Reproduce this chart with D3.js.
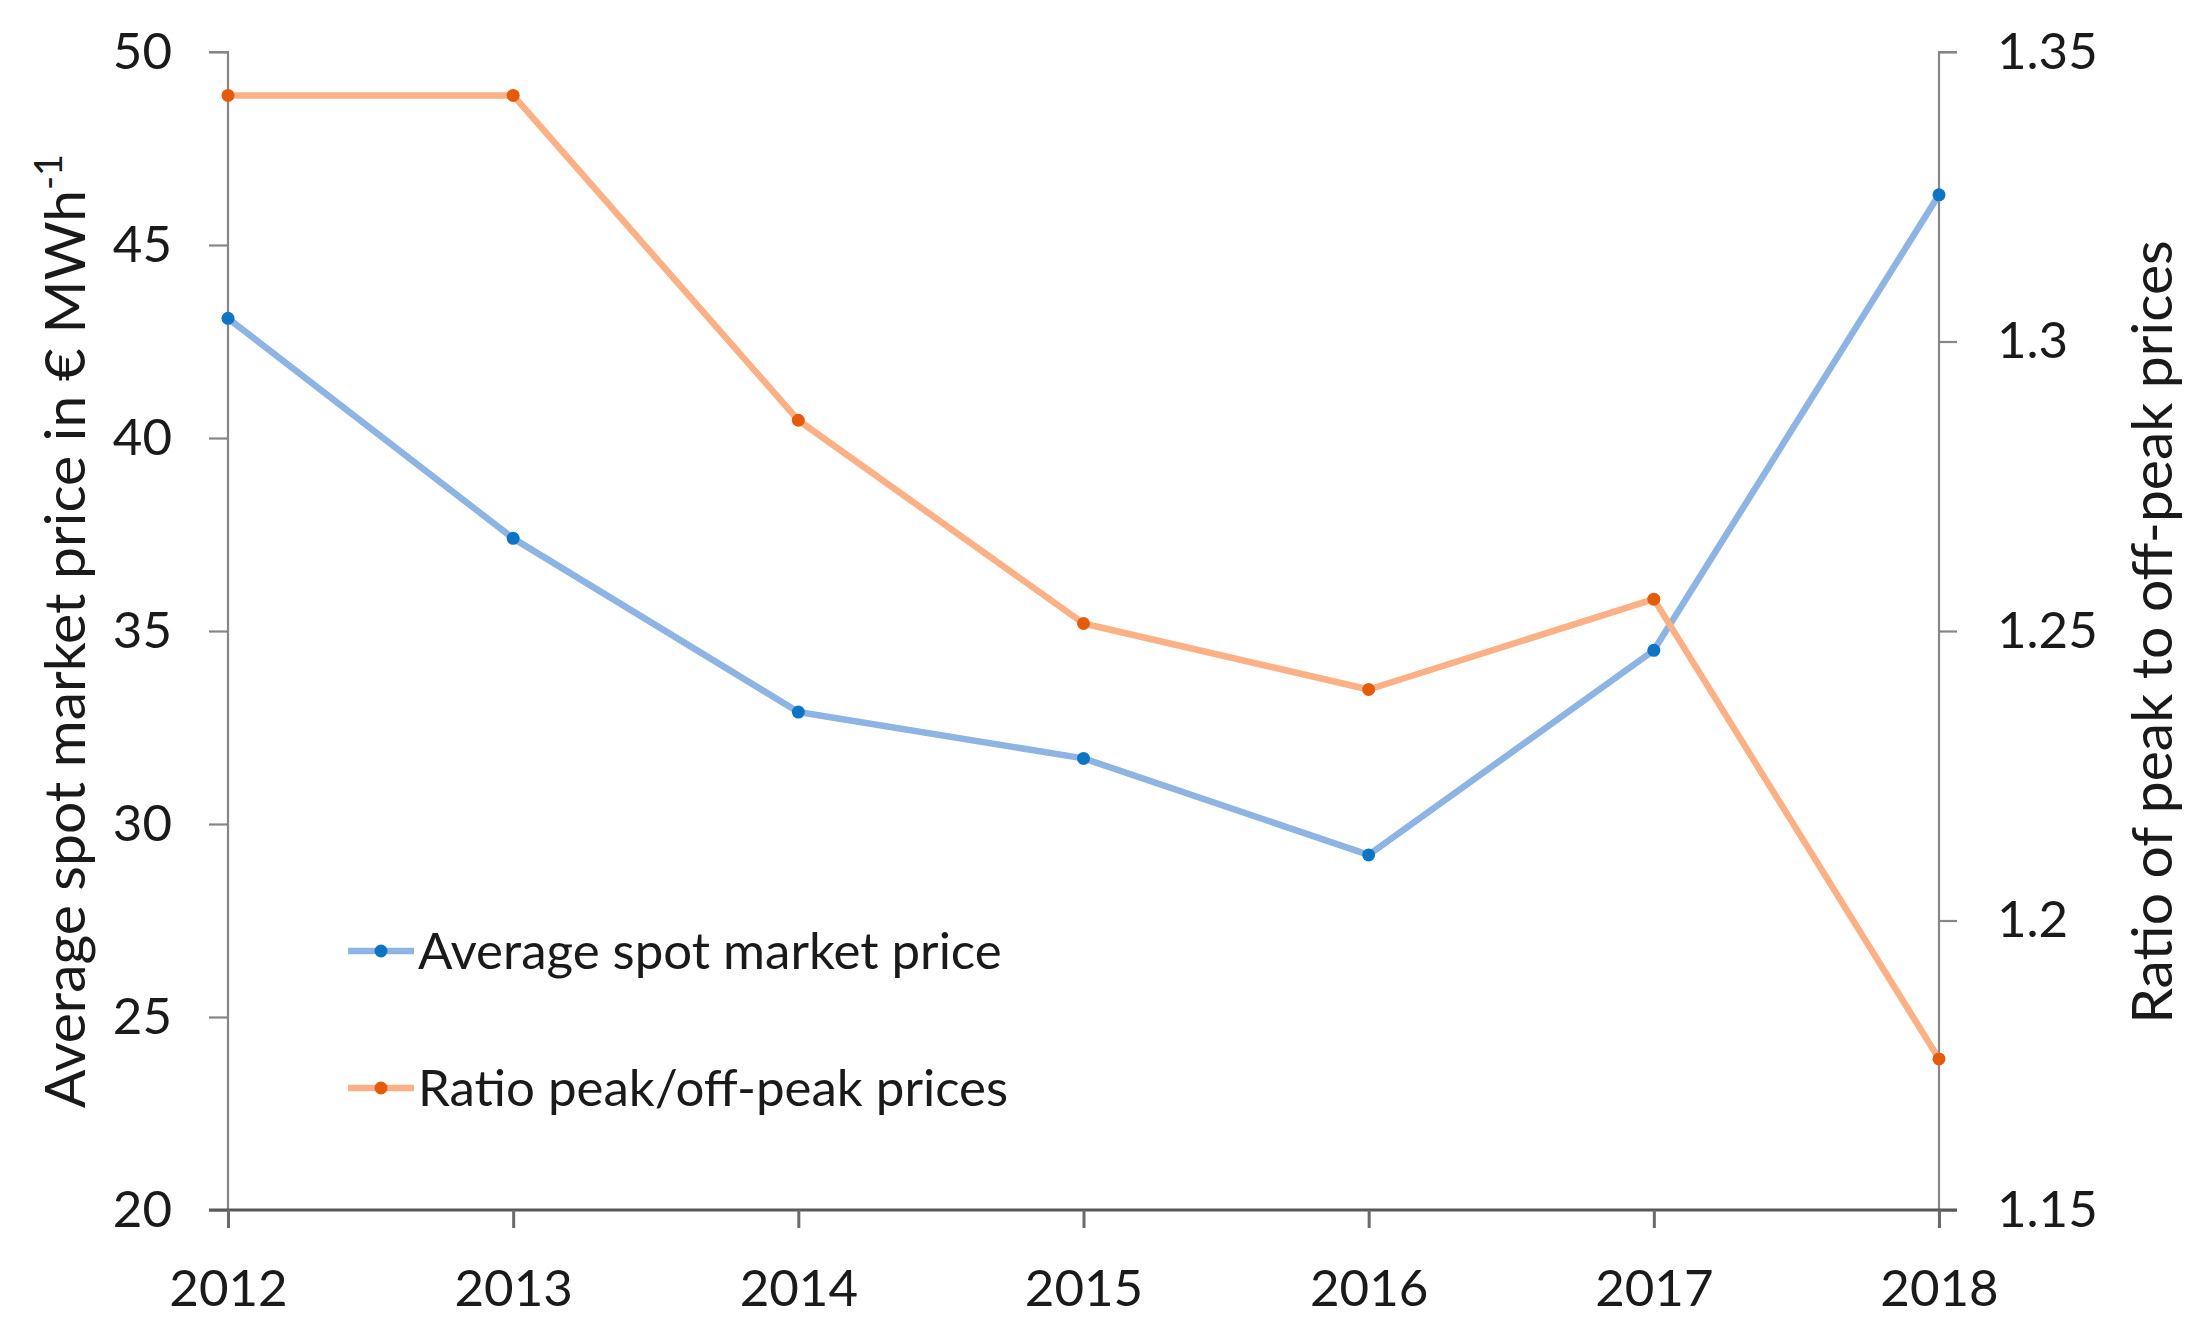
<!DOCTYPE html>
<html>
<head>
<meta charset="utf-8">
<script src="https://cdn.jsdelivr.net/npm/d3@7"></script>
<style>
  html, body { margin: 0; padding: 0; background: #ffffff; }
  svg { display: block; }
</style>
</head>
<body>
<svg id="chart" width="2211" height="1342"></svg>
<script>
// ---- data ----
const years = [2012, 2013, 2014, 2015, 2016, 2017, 2018];
const avgSpotPrice = [43.1, 37.4, 32.9, 31.7, 29.2, 34.5, 46.3];
const peakOffPeakRatio = [1.3425, 1.3425, 1.2864, 1.2513, 1.2399, 1.2555, 1.1761];
const leftTicks = [20, 25, 30, 35, 40, 45, 50];
const rightTicks = [1.15, 1.2, 1.25, 1.3, 1.35];
const rightTickLabels = ["1.15", "1.2", "1.25", "1.3", "1.35"];
const seriesNames = ["Average spot market price", "Ratio peak/off-peak prices"];
const leftTitle = "Average spot market price in € MWh";
const rightTitle = "Ratio of peak to off-peak prices";

// ---- layout ----
const FONT = "Lato, 'Open Sans', sans-serif";
const x0 = 228, x1 = 1939, yTop = 52, yBot = 1210;
const svg = d3.select("#chart");

const x = d3.scalePoint().domain(years).range([x0, x1]);
const yL = d3.scaleLinear().domain([20, 50]).range([yBot, yTop]);
const yR = d3.scaleLinear().domain([1.15, 1.35]).range([yBot, yTop]);

// left axis
const gL = svg.append("g").attr("transform", `translate(${x0},0)`)
  .call(d3.axisLeft(yL).tickValues(leftTicks).tickSize(19).tickPadding(37).tickFormat(d3.format("d")));
gL.select(".domain").attr("stroke", "#868686").attr("stroke-width", 2.2).attr("d", `M-19,${yTop}H0V${yBot}`);
gL.selectAll(".tick line").attr("stroke", "#868686").attr("stroke-width", 2.2);
gL.selectAll(".tick text").attr("font-family", FONT).attr("font-size", 51).attr("fill", "#1a1a1a");

// right axis
const gR = svg.append("g").attr("transform", `translate(${x1},0)`)
  .call(d3.axisRight(yR).tickValues(rightTicks).tickSize(18).tickPadding(40)
    .tickFormat((d, i) => rightTickLabels[i]));
gR.select(".domain").attr("stroke", "#868686").attr("stroke-width", 2.2).attr("d", `M18,${yTop}H0V${yBot + 18}`);
gR.selectAll(".tick line").attr("stroke", "#868686").attr("stroke-width", 2.2);
gR.selectAll(".tick text").attr("font-family", FONT).attr("font-size", 51).attr("fill", "#1a1a1a");

// bottom axis
const gB = svg.append("g").attr("transform", `translate(0,${yBot})`)
  .call(d3.axisBottom(x).tickSize(18).tickPadding(42).tickFormat(d3.format("d")));
gB.select(".domain").attr("stroke", "#595959").attr("stroke-width", 3).attr("d", `M${x0 - 19},0H${x1 + 18}`);
gB.selectAll(".tick line").attr("stroke", "#6a6a6a").attr("stroke-width", 3);
gB.selectAll(".tick text").attr("font-family", FONT).attr("font-size", 51).attr("fill", "#1a1a1a");

// series
const blueLine = "#8db4e2", blueDot = "#0e74c4";
const orangeLine = "#fcb085", orangeDot = "#e45c0a";

const lineL = d3.line().x((d, i) => x(years[i])).y(d => yL(d));
const lineR = d3.line().x((d, i) => x(years[i])).y(d => yR(d));

svg.append("path").datum(avgSpotPrice).attr("d", lineL)
  .attr("fill", "none").attr("stroke", blueLine).attr("stroke-width", 6.5).attr("stroke-linejoin", "round");
svg.append("path").datum(peakOffPeakRatio).attr("d", lineR)
  .attr("fill", "none").attr("stroke", orangeLine).attr("stroke-width", 6.5).attr("stroke-linejoin", "round");

svg.append("g").selectAll("circle").data(avgSpotPrice).join("circle")
  .attr("cx", (d, i) => x(years[i])).attr("cy", d => yL(d)).attr("r", 6.5).attr("fill", blueDot);
svg.append("g").selectAll("circle").data(peakOffPeakRatio).join("circle")
  .attr("cx", (d, i) => x(years[i])).attr("cy", d => yR(d)).attr("r", 6.5).attr("fill", orangeDot);

// legend
const legendItems = [
  { name: seriesNames[0], line: blueLine, dot: blueDot, y: 951 },
  { name: seriesNames[1], line: orangeLine, dot: orangeDot, y: 1088 }
];
const lg = svg.append("g");
legendItems.forEach(it => {
  lg.append("line").attr("x1", 348).attr("x2", 414).attr("y1", it.y).attr("y2", it.y)
    .attr("stroke", it.line).attr("stroke-width", 6.5);
  lg.append("circle").attr("cx", 381).attr("cy", it.y).attr("r", 6.5).attr("fill", it.dot);
  lg.append("text").attr("x", 418).attr("y", it.y).attr("dy", "0.35em")
    .attr("font-family", FONT).attr("font-size", 51).attr("fill", "#1a1a1a").text(it.name);
});

// axis titles
const lt = svg.append("text")
  .attr("transform", "translate(85,631) rotate(-90)")
  .attr("text-anchor", "middle")
  .attr("font-family", FONT).attr("font-size", 57).attr("fill", "#1a1a1a");
lt.append("tspan").text(leftTitle);
lt.append("tspan").attr("font-size", 38).attr("dy", -23).text("-1");

svg.append("text")
  .attr("transform", "translate(2172,632) rotate(-90)")
  .attr("text-anchor", "middle")
  .attr("font-family", FONT).attr("font-size", 57).attr("fill", "#1a1a1a")
  .text(rightTitle);
</script>
</body>
</html>
